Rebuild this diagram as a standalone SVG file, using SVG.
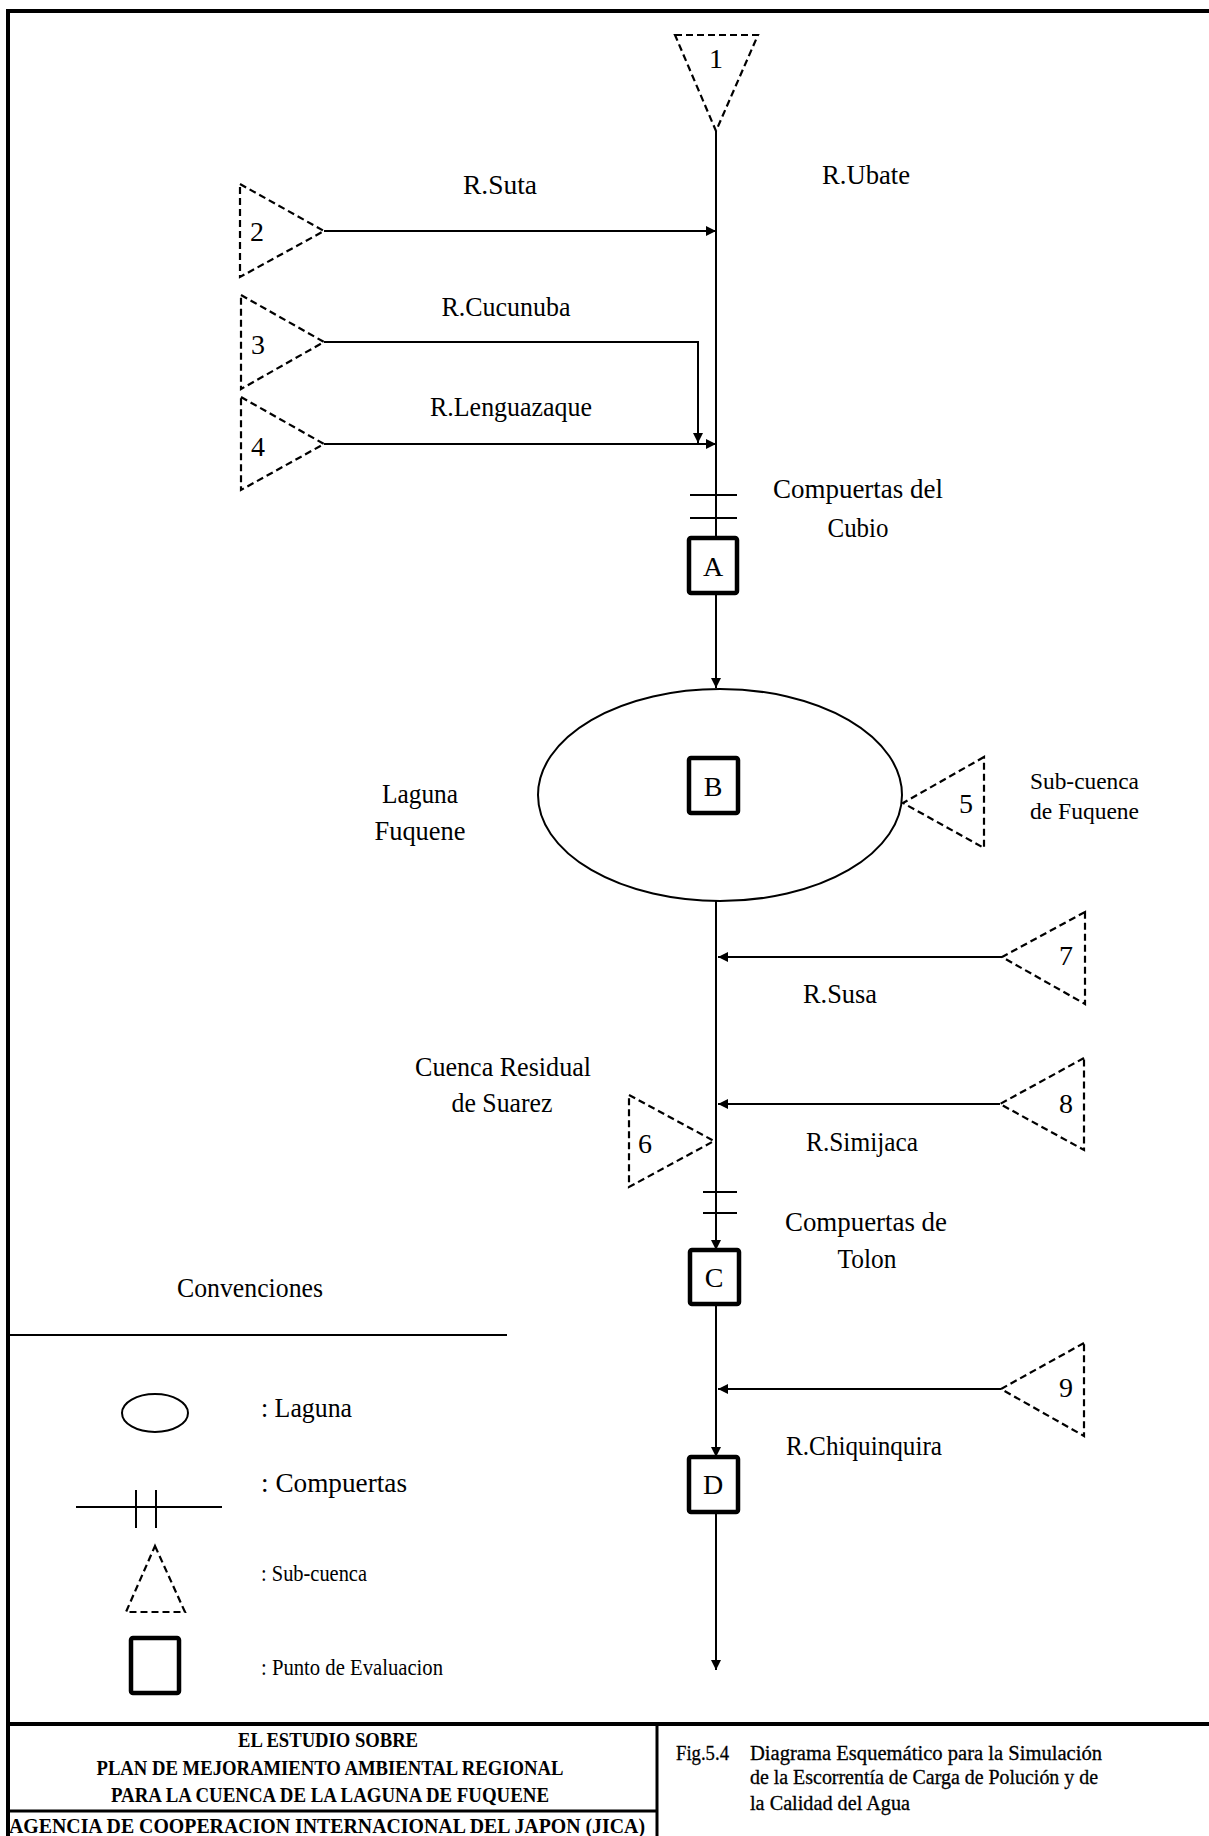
<svg xmlns="http://www.w3.org/2000/svg" width="1209" height="1836" viewBox="0 0 1209 1836">
<defs>
<marker id="arr" viewBox="0 0 10 10" refX="10" refY="5" markerWidth="10" markerHeight="10" markerUnits="userSpaceOnUse" orient="auto">
<path d="M0,0 L10,5 L0,10 z" fill="#000"/>
</marker>
</defs>
<style>
text{font-family:"Liberation Serif","Times New Roman",serif;fill:#000}
.lb{font-size:28px}
.mid{text-anchor:middle}
.cn{font-size:24px}
.sub{fill:none;stroke:#000;stroke-width:2.2;stroke-dasharray:7,4}
.box{fill:#fff;stroke:#000;stroke-width:4.5}
.ln{fill:none;stroke:#000;stroke-width:2}
.frame{fill:none;stroke:#000;stroke-width:4}
.tb{font-size:21px;font-weight:bold}
.tr{font-size:20.5px;stroke:#000;stroke-width:0.3}
</style>
<rect width="1209" height="1836" fill="#fff"/>

<g id="frame">
<line class="frame" x1="8" y1="11" x2="1209" y2="11"/>
<line class="frame" x1="8" y1="9" x2="8" y2="1836"/>
<line class="frame" x1="8" y1="1724" x2="1209" y2="1724"/>
<line class="ln" style="stroke-width:3" x1="657" y1="1724" x2="657" y2="1836"/>
<line class="ln" style="stroke-width:3" x1="8" y1="1811" x2="657" y2="1811"/>
</g>

<g id="connectors">
<line class="ln" x1="716" y1="131" x2="716" y2="688" marker-end="url(#arr)"/>
<line class="ln" x1="324" y1="231" x2="716" y2="231" marker-end="url(#arr)"/>
<polyline class="ln" points="324,342 698,342 698,443" marker-end="url(#arr)"/>
<line class="ln" x1="324" y1="444" x2="716" y2="444" marker-end="url(#arr)"/>
<line class="ln" x1="690" y1="495" x2="737" y2="495"/>
<line class="ln" x1="690" y1="518" x2="737" y2="518"/>
<line class="ln" x1="716" y1="901" x2="716" y2="1250" marker-end="url(#arr)"/>
<line class="ln" x1="1002" y1="957" x2="718" y2="957" marker-end="url(#arr)"/>
<line class="ln" x1="1000" y1="1104" x2="718" y2="1104" marker-end="url(#arr)"/>
<line class="ln" x1="703" y1="1192" x2="737" y2="1192"/>
<line class="ln" x1="703" y1="1213" x2="737" y2="1213"/>
<line class="ln" x1="716" y1="1304" x2="716" y2="1457" marker-end="url(#arr)"/>
<line class="ln" x1="1001" y1="1389" x2="718" y2="1389" marker-end="url(#arr)"/>
<line class="ln" x1="716" y1="1512" x2="716" y2="1670" marker-end="url(#arr)"/>
</g>

<g id="sub1"><polygon class="sub" points="675,35 758,35 716,131"/><text class="lb mid" x="716" y="68">1</text></g>
<g id="sub2"><polygon class="sub" points="240,184 324,231 240,277"/><text class="lb mid" x="257" y="241">2</text></g>
<g id="sub3"><polygon class="sub" points="241,295 324,342 241,389"/><text class="lb mid" x="258" y="354">3</text></g>
<g id="sub4"><polygon class="sub" points="241,397 324,444 241,490"/><text class="lb mid" x="258" y="456">4</text></g>
<g id="sub5"><polygon class="sub" points="984,757 903,803 984,848"/><text class="lb mid" x="966" y="813">5</text></g>
<g id="sub6"><polygon class="sub" points="629,1095 714,1141 629,1187"/><text class="lb mid" x="645" y="1153">6</text></g>
<g id="sub7"><polygon class="sub" points="1085,912 1002,957 1085,1004"/><text class="lb mid" x="1066" y="965">7</text></g>
<g id="sub8"><polygon class="sub" points="1084,1058 1000,1104 1084,1150"/><text class="lb mid" x="1066" y="1113">8</text></g>
<g id="sub9"><polygon class="sub" points="1084,1343 1001,1389 1084,1436"/><text class="lb mid" x="1066" y="1397">9</text></g>

<g id="laguna"><ellipse class="ln" cx="720" cy="795" rx="182" ry="106"/></g>

<g id="ptA"><rect class="box" x="689" y="538" width="48" height="55" rx="2"/><text class="lb mid" x="713" y="576">A</text></g>
<g id="ptB"><rect class="box" x="689" y="758" width="49" height="55" rx="2"/><text class="lb mid" x="713" y="796">B</text></g>
<g id="ptC"><rect class="box" x="690" y="1250" width="49" height="54" rx="2"/><text class="lb mid" x="714" y="1287">C</text></g>
<g id="ptD"><rect class="box" x="689" y="1457" width="49" height="55" rx="2"/><text class="lb mid" x="713" y="1494">D</text></g>

<g id="labels">
<text class="lb mid" x="866" y="184" textLength="88" lengthAdjust="spacingAndGlyphs">R.Ubate</text>
<text class="lb mid" x="500" y="194" textLength="74" lengthAdjust="spacingAndGlyphs">R.Suta</text>
<text class="lb mid" x="506" y="316" textLength="129" lengthAdjust="spacingAndGlyphs">R.Cucunuba</text>
<text class="lb mid" x="511" y="416" textLength="162" lengthAdjust="spacingAndGlyphs">R.Lenguazaque</text>
<text class="lb mid" x="858" y="498" textLength="170" lengthAdjust="spacingAndGlyphs">Compuertas del</text>
<text class="lb mid" x="858" y="537" textLength="61" lengthAdjust="spacingAndGlyphs">Cubio</text>
<text class="lb mid" x="420" y="803" textLength="76" lengthAdjust="spacingAndGlyphs">Laguna</text>
<text class="lb mid" x="420" y="840" textLength="91" lengthAdjust="spacingAndGlyphs">Fuquene</text>
<text class="cn" x="1030" y="789" textLength="109" lengthAdjust="spacingAndGlyphs">Sub-cuenca</text>
<text class="cn" x="1030" y="819" textLength="109" lengthAdjust="spacingAndGlyphs">de Fuquene</text>
<text class="lb mid" x="840" y="1003" textLength="74" lengthAdjust="spacingAndGlyphs">R.Susa</text>
<text class="lb mid" x="503" y="1076" textLength="176" lengthAdjust="spacingAndGlyphs">Cuenca Residual</text>
<text class="lb mid" x="502" y="1112" textLength="101" lengthAdjust="spacingAndGlyphs">de Suarez</text>
<text class="lb mid" x="862" y="1151" textLength="112" lengthAdjust="spacingAndGlyphs">R.Simijaca</text>
<text class="lb mid" x="866" y="1231" textLength="162" lengthAdjust="spacingAndGlyphs">Compuertas de</text>
<text class="lb mid" x="867" y="1268" textLength="59" lengthAdjust="spacingAndGlyphs">Tolon</text>
<text class="lb mid" x="864" y="1455" textLength="156" lengthAdjust="spacingAndGlyphs">R.Chiquinquira</text>
</g>

<g id="legend">
<text class="lb mid" x="250" y="1297" textLength="146" lengthAdjust="spacingAndGlyphs">Convenciones</text>
<line class="ln" x1="8" y1="1335" x2="507" y2="1335"/>
<ellipse class="ln" cx="155" cy="1413" rx="33" ry="19"/>
<text class="lb" x="261" y="1417" textLength="91" lengthAdjust="spacingAndGlyphs">: Laguna</text>
<line class="ln" x1="76" y1="1507" x2="222" y2="1507"/>
<line class="ln" x1="136" y1="1490" x2="136" y2="1528"/>
<line class="ln" x1="156" y1="1490" x2="156" y2="1528"/>
<text class="lb" x="261" y="1492" textLength="146" lengthAdjust="spacingAndGlyphs">: Compuertas</text>
<polygon class="sub" points="155,1546 185,1612 126,1612"/>
<text class="cn" x="261" y="1581" textLength="106" lengthAdjust="spacingAndGlyphs">: Sub-cuenca</text>
<rect class="box" x="131" y="1638" width="48" height="55" rx="2"/>
<text class="cn" x="261" y="1675" textLength="182" lengthAdjust="spacingAndGlyphs">: Punto de Evaluacion</text>
</g>

<g id="titleblock">
<text class="tb mid" x="328" y="1747" textLength="180" lengthAdjust="spacingAndGlyphs">EL ESTUDIO SOBRE</text>
<text class="tb mid" x="330" y="1775" textLength="467" lengthAdjust="spacingAndGlyphs">PLAN DE MEJORAMIENTO AMBIENTAL REGIONAL</text>
<text class="tb mid" x="330" y="1802" textLength="438" lengthAdjust="spacingAndGlyphs">PARA LA CUENCA DE LA LAGUNA DE FUQUENE</text>
<text class="tb" x="9" y="1833" textLength="636" lengthAdjust="spacingAndGlyphs">AGENCIA DE COOPERACION INTERNACIONAL DEL JAPON (JICA)</text>
<text class="tr" x="676" y="1760" textLength="53" lengthAdjust="spacingAndGlyphs">Fig.5.4</text>
<text class="tr" x="750" y="1760" textLength="352" lengthAdjust="spacingAndGlyphs">Diagrama Esquemático para la Simulación</text>
<text class="tr" x="750" y="1784" textLength="348" lengthAdjust="spacingAndGlyphs">de la Escorrentía de Carga de Polución y de</text>
<text class="tr" x="750" y="1810" textLength="160" lengthAdjust="spacingAndGlyphs">la Calidad del Agua</text>
</g>
</svg>
